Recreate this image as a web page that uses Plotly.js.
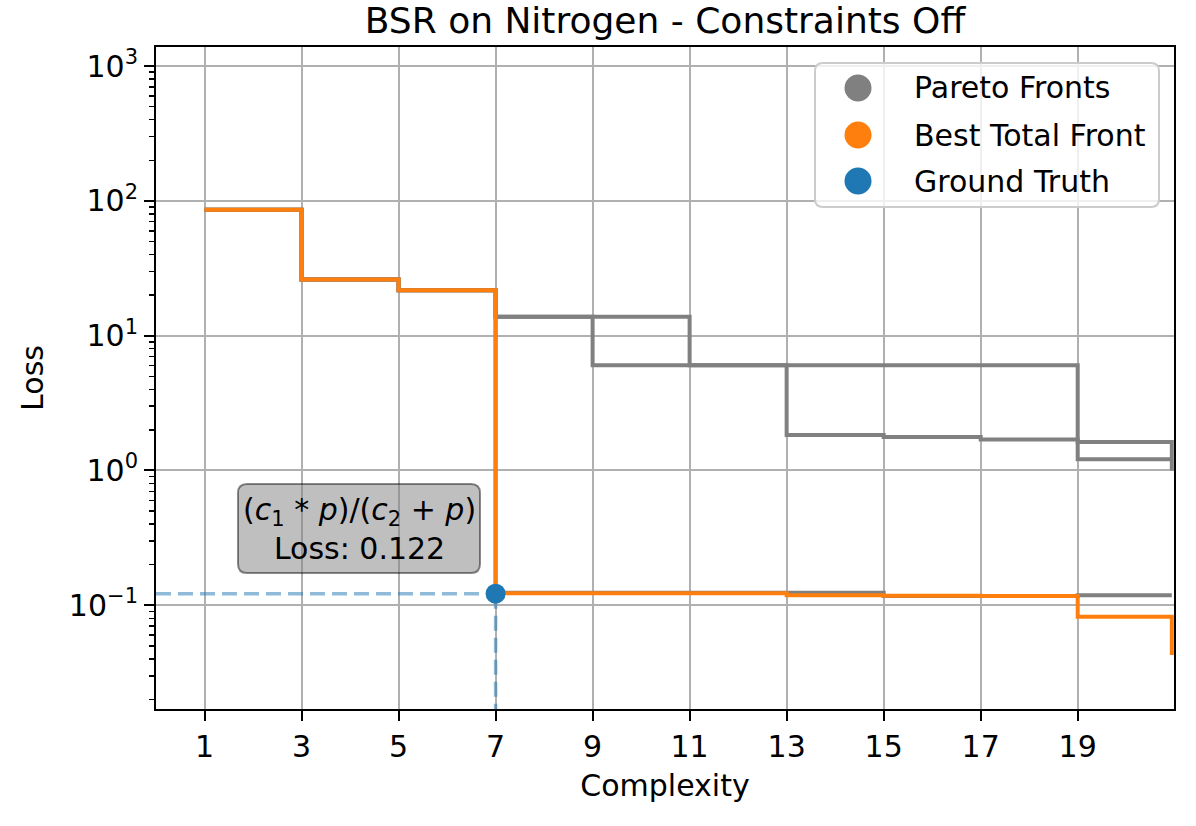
<!DOCTYPE html>
<html>
<head>
<meta charset="utf-8">
<script src="https://cdn.plot.ly/plotly-3.0.1.min.js"></script>
<style>
  html, body { margin: 0; padding: 0; background: #fff; }
  #chart { width: 1196px; height: 826px; }
</style>
</head>
<body>
<div id="chart"></div>
<script>
// pareto fronts (gray)
const frontAx = [1, 3, 5, 7, 11, 19, 20.94];
const frontAy = [86, 26.1, 21.7, 13.8, 6.04, 1.21, 1.21];
const frontBx = [1, 3, 5, 7, 9, 13, 15, 17, 19, 20.94];
const frontBy = [86, 26.1, 21.7, 13.8, 6.04, 1.83, 1.77, 1.70, 1.63, 1.0];
const frontCx = [1, 3, 5, 7, 15, 19, 20.94];
const frontCy = [86, 26.1, 21.7, 0.124, 0.117, 0.119, 0.119];

// best total front (orange)
const bestX = [1, 3, 5, 7, 13, 15, 17, 19, 20.94];
const bestY = [86, 26.1, 21.7, 0.123, 0.119, 0.118, 0.117, 0.0823, 0.0428];

// ground truth
const gtComplexity = 7;
const gtLoss = 0.122;
const gtLabel = '(<i>c</i><sub>1</sub> * <i>p</i>)/(<i>c</i><sub>2</sub> + <i>p</i>)<br>Loss: 0.122';

// axes
const xTicks = [1, 3, 5, 7, 9, 11, 13, 15, 17, 19];
const yTickVals = [0.1, 1, 10, 100, 1000];
const yTickText = ['10<sup>\u22121</sup>', '10<sup>0</sup>', '10<sup>1</sup>', '10<sup>2</sup>', '10<sup>3</sup>'];

const legendNames = ['Pareto Fronts', 'Best Total Front', 'Ground Truth'];
const legendColors = ['#808080', '#ff7f0e', '#1f77b4'];

const FONT = 'DejaVu Sans, sans-serif';

let minorVals = [];
for (let d = -2; d <= 3; d++) {
    for (let k = 2; k <= 9; k++) minorVals.push(k * Math.pow(10, d));
}

function stepTrace(x, y, color) {
    return {
        x: x, y: y, type: 'scatter', mode: 'lines',
        line: { shape: 'hv', color: color, width: 4 },
        showlegend: false, hoverinfo: 'skip'
    };
}

let data = [
    stepTrace(frontAx, frontAy, '#808080'),
    stepTrace(frontBx, frontBy, '#808080'),
    stepTrace(frontCx, frontCy, '#808080'),
    stepTrace(bestX, bestY, '#ff7f0e'),
    {
        x: [0, gtComplexity], y: [gtLoss, gtLoss], type: 'scatter', mode: 'lines',
        line: { color: 'rgba(31,119,180,0.5)', width: 3.5, dash: '15px,7px' },
        showlegend: false
    },
    {
        x: [gtComplexity, gtComplexity], y: [gtLoss, 0.01], type: 'scatter', mode: 'lines',
        line: { color: 'rgba(31,119,180,0.5)', width: 3.5, dash: '15px,7px' },
        showlegend: false
    },
    {
        x: [gtComplexity], y: [gtLoss], type: 'scatter', mode: 'markers',
        marker: { color: '#1f77b4', size: 20 },
        showlegend: false
    }
];

function roundRect(w, h, r) {
    const x0 = -w / 2, x1 = w / 2, y0 = -h / 2, y1 = h / 2;
    return `M${x0 + r},${y0} L${x1 - r},${y0} Q${x1},${y0} ${x1},${y0 + r} ` +
        `L${x1},${y1 - r} Q${x1},${y1} ${x1 - r},${y1} L${x0 + r},${y1} ` +
        `Q${x0},${y1} ${x0},${y1 - r} L${x0},${y0 + r} Q${x0},${y0} ${x0 + r},${y0} Z`;
}

// plot area in px: left 156, right 1174, top 47, bottom 709
const px = v => (v - 156) / 1018;
const py = v => (709 - v) / 662;

let shapes = [
    {
        type: 'path', xref: 'paper', yref: 'paper', xsizemode: 'pixel', ysizemode: 'pixel',
        xanchor: px(359), yanchor: py(528.5), path: roundRect(242, 89, 9),
        fillcolor: 'rgba(128,128,128,0.5)', line: { color: 'rgba(0,0,0,0.45)', width: 2 }
    },
    {
        type: 'path', xref: 'paper', yref: 'paper', xsizemode: 'pixel', ysizemode: 'pixel',
        xanchor: px(987), yanchor: py(135), path: roundRect(344, 144, 8),
        fillcolor: 'rgba(255,255,255,0.8)', line: { color: '#cccccc', width: 2 }
    }
];

let annotations = [
    {
        xref: 'paper', yref: 'paper', x: px(359), y: py(528.5), text: gtLabel,
        showarrow: false, align: 'center', xanchor: 'center', yanchor: 'middle',
        font: { family: FONT, size: 30, color: 'black' }
    }
];

const legendY = [88, 135, 181];
legendNames.forEach((name, i) => {
    shapes.push({
        type: 'circle', xref: 'paper', yref: 'paper', xsizemode: 'pixel', ysizemode: 'pixel',
        xanchor: px(858), yanchor: py(legendY[i]), x0: -13.5, x1: 13.5, y0: -13.5, y1: 13.5,
        fillcolor: legendColors[i], line: { width: 0 }
    });
    annotations.push({
        xref: 'paper', yref: 'paper', x: px(912), y: py(legendY[i]), text: name,
        showarrow: false, xanchor: 'left', yanchor: 'middle',
        font: { family: FONT, size: 30, color: 'black' }
    });
});

let layout = {
    width: 1196,
    height: 826,
    paper_bgcolor: 'white',
    plot_bgcolor: 'white',
    font: { family: FONT, size: 30, color: 'black' },
    margin: { l: 156, r: 22, t: 47, b: 117 },
    showlegend: false,
    title: {
        text: 'BSR on Nitrogen - Constraints Off',
        font: { family: FONT, size: 36, color: 'black' },
        xref: 'paper', x: 0.5, xanchor: 'center',
        yref: 'container', y: 1 - 20 / 826, yanchor: 'middle'
    },
    xaxis: {
        range: [0, 20.985],
        tickmode: 'array', tickvals: xTicks,
        ticks: 'outside', ticklen: 10, tickwidth: 2, tickcolor: 'black',
        showline: true, linecolor: 'black', linewidth: 2, mirror: true,
        showgrid: true, gridcolor: '#b0b0b0', gridwidth: 2,
        zeroline: false,
        tickfont: { family: FONT, size: 30, color: 'black' },
        title: { text: 'Complexity', font: { family: FONT, size: 30, color: 'black' }, standoff: 12 },
        automargin: false
    },
    yaxis: {
        type: 'log',
        range: [-1.769, 3.141],
        tickmode: 'array', tickvals: yTickVals, ticktext: yTickText,
        ticks: 'outside', ticklen: 10, tickwidth: 2, tickcolor: 'black',
        minor: { tickmode: 'array', tickvals: minorVals, ticks: 'outside', ticklen: 5.5, tickwidth: 1.5, tickcolor: 'black', showgrid: false },
        showline: true, linecolor: 'black', linewidth: 2, mirror: true,
        showgrid: true, gridcolor: '#b0b0b0', gridwidth: 2,
        zeroline: false,
        tickfont: { family: FONT, size: 30, color: 'black' },
        title: { text: 'Loss', font: { family: FONT, size: 30, color: 'black' }, standoff: 16 },
        automargin: false
    },
    shapes: shapes,
    annotations: annotations
};

Plotly.newPlot('chart', data, layout, { staticPlot: true, displayModeBar: false });
</script>
</body>
</html>
